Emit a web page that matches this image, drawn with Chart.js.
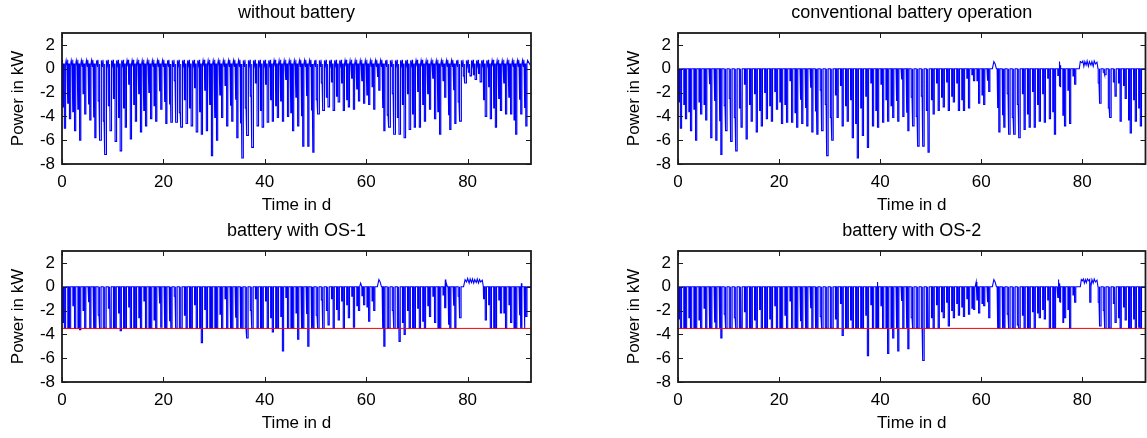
<!DOCTYPE html>
<html>
<head>
<meta charset="utf-8">
<script src="https://cdn.jsdelivr.net/npm/chart.js@4.4.1/dist/chart.umd.min.js"></script>
<style>
  html, body { margin: 0; padding: 0; background: #fff; }
  body { width: 1147px; height: 438px; position: relative; overflow: hidden; }
  .panel { position: absolute; }
</style>
</head>
<body>
<div class="panel" style="left:0;top:0;width:534px;height:219px"><canvas id="chartA"></canvas></div>
<div class="panel" style="left:616px;top:0;width:531px;height:219px"><canvas id="chartB"></canvas></div>
<div class="panel" style="left:0;top:218px;width:534px;height:219px"><canvas id="chartC"></canvas></div>
<div class="panel" style="left:616px;top:218px;width:531px;height:219px"><canvas id="chartD"></canvas></div>
<script>
// daily minimum of the grid power (kW), day 0..91
const minNoBattery = [
  -5.0,-4.2,-5.2,-6.0,-3.8,-4.3,-5.8,-6.0,-7.2,-5.2,
  -6.1,-6.9,-4.9,-5.9,-4.4,-5.3,-4.8,-4.2,-4.4,-3.4,
  -4.6,-4.5,-4.5,-4.9,-4.6,-4.8,-5.3,-5.5,-5.2,-7.3,
  -6.0,-4.1,-4.8,-4.4,-5.8,-7.5,-5.6,-6.6,-4.8,-4.9,
  -4.5,-4.4,-4.1,-4.4,-4.0,-5.2,-4.8,-6.5,-6.5,-7.0,
  -3.8,-3.5,-3.2,-3.5,-2.8,-3.5,-3.2,-3.4,-2.7,-2.9,
  -3.0,-3.4,-1.8,-5.2,-4.9,-5.5,-5.5,-5.8,-5.1,-4.9,
  -4.9,-4.4,-3.4,-4.2,-5.5,-2.4,-5.1,-4.6,-4.4,-1.2,
  -0.6,-0.9,-1.1,-4.0,-4.2,-4.9,-3.5,-3.8,-3.8,-5.5,
  -3.8,-4.8
];
// second (shallower) dip of each day
const midNoBattery = [
  -3.2,-2.9,-3.6,-3.4,-2.1,-3.0,-4.1,-2.7,-4.4,-3.1,
  -2.5,-4.1,-3.3,-1.3,-3.0,-2.1,-3.5,-2.0,-3.1,-1.9,
  -2.8,-3.0,-1.0,-3.7,-2.6,-3.3,-1.6,-3.6,-1.8,-3.0,
  -4.1,-2.2,-1.4,-3.1,-2.6,-4.6,-3.3,-2.3,-1.2,-3.5,
  -1.3,-2.6,-3.1,-2.7,-0.9,-3.7,-2.4,-4.0,-2.3,-3.5,
  -2.6,-1.2,-2.4,-1.1,-2.3,-1.2,-2.6,-0.8,-1.7,-1.0,
  -2.2,-1.5,-0.7,-3.3,-3.9,-2.1,-4.1,-3.0,-2.1,-3.8,
  -1.9,-3.0,-2.1,-0.8,-3.6,-1.0,-3.9,-1.8,-2.8,-0.6,
  -0.3,-0.5,-0.4,-2.6,-1.5,-3.3,-2.5,-1.2,-2.4,-4.3,
  -2.6,-3.3
];
// household load without battery: night, morning, daytime, evening (kW)
const loadNoBattery = [0.2, 0.75, 0.4, 0.7];

const minConventional = [
  -5.0,-4.2,-5.2,-6.0,-3.8,-4.3,-5.8,-6.0,-7.2,-5.2,
  -6.1,-6.9,-4.9,-5.9,-4.4,-5.3,-4.8,-4.2,-4.4,-3.4,
  -4.6,-4.5,-4.5,-4.9,-4.6,-4.8,-5.3,-5.5,-5.2,-7.3,
  -6.0,-4.1,-4.8,-4.4,-5.8,-7.5,-5.6,-6.6,-4.8,-4.9,
  -4.5,-4.4,-4.1,-4.4,-4.0,-5.2,-4.8,-6.5,-6.5,-7.0,
  -3.8,-3.5,-3.2,-3.5,-2.8,-3.5,-3.5,-3.3,-1.0,-2.9,
  -3.0,-1.9, 0.0,-5.3,-4.9,-5.5,-5.5,-5.8,-5.1,-4.9,
  -4.9,-4.4,-4.5,-4.2,-5.5,-1.5,-4.8,-4.6,-1.3, 0.0,
   0.0, 0.0, 0.0,-2.9,-0.5,-4.1,-2.3,-4.4,-2.5,-5.4,
  -4.4,-4.8
];
const midConventional = [
  -2.8,-3.0,-3.6,-3.4,-2.8,-3.0,-1.3,-2.7,-4.4,-3.1,
  -2.5,-4.1,-3.3,-1.3,-3.0,-2.1,-3.5,-2.0,-3.1,-1.9,
  -2.8,-3.0,-1.0,-3.7,-2.6,-3.3,-1.6,-3.6,-1.8,-3.0,
  -4.1,-2.2,-1.4,-3.1,-2.6,-4.6,-3.3,-2.3,-1.2,-3.5,
  -1.3,-2.6,-3.1,-2.7,-0.9,-3.7,-2.4,-4.0,-2.3,-3.5,
  -2.6,-1.2,-2.4,-1.1,-2.3,-1.2,-2.6,-0.8,-0.5,-1.0,
  -2.2,-1.0, 0.0,-3.3,-3.9,-2.1,-4.1,-3.0,-2.1,-3.8,
  -1.9,-3.0,-2.1,-0.8,-3.6,-0.6,-3.9,-1.8,-0.6, 0.0,
   0.0, 0.0, 0.0,-1.2,-0.3,-3.3,-1.1,-1.2,-1.4,-4.3,
  -2.6,-3.3
];
// positive excursions [day, kW]
const bumpsConventional = [
  [62.2,0],[62.5,0.6],[62.75,0.4],[63.0,0],
  [75.2,0],[75.5,0.6],[75.7,0.3],[75.9,0],
  [79.4,0],[79.6,0.6],[79.9,0.5],[80.1,0.65],[80.3,0.2],[80.5,0.6],[80.75,0.3],[80.95,0.65],
  [81.2,0.2],[81.4,0.6],[81.7,0.3],[81.9,0.6],[82.15,0.2],[82.35,0.65],[82.6,0.4],[82.9,0.55],[83.1,0]
];

const minOS1 = [
  -3.5,-3.5,-3.5,-3.6,-3.5,-3.5,-3.5,-3.5,-3.5,-3.5,
  -3.5,-3.7,-3.5,-3.5,-3.5,-3.5,-3.5,-3.5,-3.5,-3.4,
  -3.5,-3.5,-3.5,-3.5,-3.5,-3.5,-3.5,-4.7,-3.5,-3.5,
  -3.5,-3.5,-3.5,-3.5,-3.5,-3.5,-4.3,-3.5,-3.5,-3.5,
  -3.5,-3.8,-3.5,-5.4,-3.5,-3.5,-4.4,-3.5,-5.0,-3.5,
  -3.5,-3.5,-3.2,-3.5,-2.8,-3.5,-2.6,-3.4,-2.0,-1.5,
  -2.9,-2.0, 0.0,-5.0,-3.5,-3.5,-4.6,-4.0,-3.5,-3.5,
  -3.5,-3.5,-2.5,-3.0,-3.5,-1.8,-3.5,-3.5,-2.6, 0.0,
   0.0, 0.0, 0.0,-2.8,-3.5,-3.5,-2.2,-3.5,-3.0,-3.5,
  -3.5,-2.5
];
const midOS1 = [
  -3.0,-3.5,-1.6,-3.5,-2.0,-1.3,-3.5,-2.4,-3.5,-1.8,
  -3.5,-2.2,-3.5,-1.7,-3.5,-2.6,-1.2,-3.5,-2.8,-1.4,
  -3.5,-2.9,-0.8,-3.5,-2.4,-3.5,-1.5,-3.5,-1.9,-3.5,
  -3.5,-2.3,-1.0,-3.5,-2.6,-3.5,-3.5,-2.0,-1.0,-3.5,
  -1.2,-2.6,-3.5,-2.5,-0.9,-3.5,-2.2,-3.5,-2.3,-3.5,
  -2.4,-1.1,-2.0,-1.0,-1.9,-1.2,-1.5,-0.8,-1.6,-0.8,
  -1.7,-1.2, 0.0,-3.5,-3.5,-2.0,-3.5,-3.0,-2.0,-3.5,
  -1.8,-2.9,-1.6,-0.8,-3.5,-0.7,-3.2,-1.6,-0.8, 0.0,
   0.0, 0.0, 0.0,-1.0,-1.5,-3.5,-1.1,-2.2,-1.5,-3.5,
  -2.4,-3.5
];
const bumpsOS1 = [
  [58.7,0],[58.9,0.3],[59.2,0],
  [62.2,0],[62.5,0.6],[62.75,0.4],[63.0,0],
  [75.3,0],[75.6,0.6],[75.8,0.3],[76.0,0],
  [79.2,0],[79.5,0.6],[79.8,0.4],[80.0,0.7],[80.3,0.3],[80.5,0.65],[80.75,0.35],[80.95,0.65],
  [81.2,0.3],[81.4,0.6],[81.7,0.35],[81.9,0.65],[82.15,0.3],[82.35,0.6],[82.6,0.4],[82.9,0.55],[83.1,0],
  [90.4,0],[90.6,0.3],[90.8,0]
];

const minOS2 = [
  -3.5,-3.5,-3.5,-3.5,-3.5,-3.5,-3.5,-3.5,-4.3,-3.5,
  -3.5,-3.5,-3.5,-3.5,-3.5,-3.5,-3.5,-3.5,-3.5,-3.5,
  -3.5,-3.5,-3.5,-3.5,-3.5,-3.5,-3.5,-3.5,-3.5,-3.5,
  -3.5,-3.5,-4.1,-3.5,-3.5,-3.5,-3.5,-5.8,-3.5,-3.5,
  -3.5,-5.6,-4.3,-5.4,-3.5,-5.2,-3.5,-3.5,-6.2,-3.5,
  -3.5,-3.5,-2.6,-3.3,-2.6,-2.4,-2.5,-2.3,-1.9,-2.2,
  -1.6,-2.6, 0.0,-3.5,-3.5,-3.5,-3.5,-3.5,-3.5,-3.5,
  -3.5,-2.6,-2.7,-3.5,-3.5,-1.3,-2.6,-3.5,-1.3, 0.0,
   0.0,-1.3, 0.0,-3.3,-3.5,-3.5,-3.0,-3.5,-2.8,-3.5,
  -3.5,-3.5
];
const midOS2 = [
  -2.7,-3.5,-2.6,-3.5,-2.8,-1.8,-3.5,-3.0,-3.5,-2.3,
  -3.5,-2.6,-3.5,-2.1,-3.5,-2.8,-1.9,-3.5,-2.7,-1.6,
  -3.5,-2.4,-1.2,-3.5,-2.9,-3.5,-1.8,-3.5,-2.5,-3.5,
  -3.5,-2.7,-1.4,-3.5,-2.8,-3.5,-3.5,-2.4,-1.5,-3.5,
  -1.6,-3.5,-3.5,-3.5,-1.2,-3.5,-2.6,-3.5,-3.5,-3.5,
  -2.6,-1.5,-2.1,-1.3,-2.0,-1.4,-1.7,-1.0,-1.8,-1.1,
  -1.4,-1.3, 0.0,-3.5,-3.5,-2.3,-3.5,-3.2,-2.4,-3.5,
  -2.1,-2.2,-1.9,-1.1,-3.5,-0.9,-3.0,-1.9,-0.7, 0.0,
   0.0, 0.0, 0.0,-1.3,-2.0,-3.5,-1.4,-2.6,-1.7,-3.5,
  -2.7,-3.4
];
const bumpsOS2 = [
  [39.3,0],[39.5,0.4],[39.7,0],
  [58.8,0],[59.0,0.4],[59.3,0],
  [62.2,0],[62.5,0.6],[62.75,0.4],[63.0,0],
  [75.0,0],[75.3,0.6],[75.55,0.3],[75.8,0],
  [79.6,0],[79.8,0.6],[80.0,0.5],[80.2,0.65],[80.4,0.3],[80.6,0.6],[80.8,0.35],[81.0,0.65],
  [81.3,0.5],[81.45,0.6],[81.7,0.35],[81.9,0.6],[82.15,0.3],[82.35,0.65],[82.6,0.4],[82.9,0.55],[83.1,0]
];

const limitKW = -3.5;
const xTicks = [0, 20, 40, 60, 80];
const yTicks = [-8, -6, -4, -2, 0, 2];
const xMax = 92.5;

const FONT = "'Liberation Sans', Arial, Helvetica, sans-serif";

// turn the daily readings into a point list; each dip is a short flat-bottomed notch
function buildTrace(mins, mids, load, bumps) {
  const pts = [];
  const day = load ? load[2] : 0;
  const notch = (t, w, v) => {
    pts.push({x: t, y: day}, {x: t + 0.01, y: v}, {x: t + w, y: v}, {x: t + w + 0.01, y: day});
  };
  mins.forEach((lo, i) => {
    const mid = mids[i];
    if (load) pts.push({x: i, y: load[0]}, {x: i + 0.08, y: load[1]});
    if (mid < 0) notch(i + 0.14, 0.16, mid);
    if (lo < 0) notch(i + 0.46, 0.24, lo);
    if (load) pts.push({x: i + 0.82, y: load[3]});
  });
  (bumps || []).forEach(([t, v]) => pts.push({x: t, y: v}));
  pts.push({x: 0, y: load ? load[0] : 0}, {x: xMax, y: load ? load[0] : 0});
  pts.sort((a, b) => a.x - b.x);
  return pts;
}

const matlabFrame = {
  id: 'matlabFrame',
  afterDatasetsDraw(chart) {
    const {ctx, chartArea: a, scales: {x, y}} = chart;
    ctx.save();
    ctx.strokeStyle = '#1a1a1a';
    ctx.lineWidth = 1;
    ctx.beginPath();
    xTicks.forEach(v => {
      const px = Math.round(x.getPixelForValue(v)) + 0.5;
      ctx.moveTo(px, a.bottom); ctx.lineTo(px, a.bottom - 5);
      ctx.moveTo(px, a.top); ctx.lineTo(px, a.top + 5);
    });
    yTicks.forEach(v => {
      const py = Math.round(y.getPixelForValue(v)) + 0.5;
      ctx.moveTo(a.left, py); ctx.lineTo(a.left + 5, py);
      ctx.moveTo(a.right, py); ctx.lineTo(a.right - 5, py);
    });
    ctx.stroke();
    ctx.lineWidth = 1.8;
    ctx.strokeRect(a.left, a.top, a.right - a.left, a.bottom - a.top);
    ctx.restore();
  }
};

function makeChart(id, title, points, showLimit, rightPad) {
  const datasets = [{
    data: points,
    borderColor: '#0000ff',
    borderWidth: 1.1,
    pointRadius: 0,
    tension: 0,
    order: 1
  }];
  if (showLimit) {
    datasets.push({
      data: [{x: 0, y: limitKW}, {x: xMax, y: limitKW}],
      borderColor: '#ff0000',
      borderWidth: 1,
      pointRadius: 0,
      order: 0
    });
  }
  const tickFont = {family: FONT, size: 17};
  return new Chart(document.getElementById(id), {
    type: 'line',
    data: {datasets: datasets},
    options: {
      responsive: true,
      maintainAspectRatio: false,
      animation: false,
      parsing: false,
      layout: {padding: {left: 0, right: rightPad, top: 0, bottom: 0}},
      plugins: {
        legend: {display: false},
        tooltip: {enabled: false},
        title: {
          display: true,
          fullSize: false,
          text: title,
          color: '#000',
          font: {family: FONT, size: 18, weight: 'normal'},
          padding: {top: 2, bottom: 9.4}
        }
      },
      scales: {
        x: {
          type: 'linear',
          min: 0,
          max: xMax,
          grid: {display: false, drawTicks: false},
          border: {display: false},
          ticks: {stepSize: 20, includeBounds: false, padding: 8, color: '#000', font: tickFont, maxRotation: 0},
          title: {display: true, text: 'Time in d', color: '#000', font: tickFont, padding: {top: 0, bottom: 3}},
          afterFit: s => { s.height = 55; }
        },
        y: {
          min: -8,
          max: 3,
          grid: {display: false, drawTicks: false},
          border: {display: false},
          ticks: {stepSize: 2, includeBounds: false, padding: 7, color: '#000', font: tickFont},
          title: {display: true, text: 'Power in kW', color: '#000', font: tickFont, padding: {top: 8, bottom: 0}},
          afterFit: s => { s.width = 62; }
        }
      }
    },
    plugins: [matlabFrame]
  });
}

makeChart('chartA', 'without battery', buildTrace(minNoBattery, midNoBattery, loadNoBattery), false, 3);
makeChart('chartB', 'conventional battery operation', buildTrace(minConventional, midConventional, null, bumpsConventional), false, 1.5);
makeChart('chartC', 'battery with OS-1', buildTrace(minOS1, midOS1, null, bumpsOS1), true, 3);
makeChart('chartD', 'battery with OS-2', buildTrace(minOS2, midOS2, null, bumpsOS2), true, 1.5);
</script>
</body>
</html>
